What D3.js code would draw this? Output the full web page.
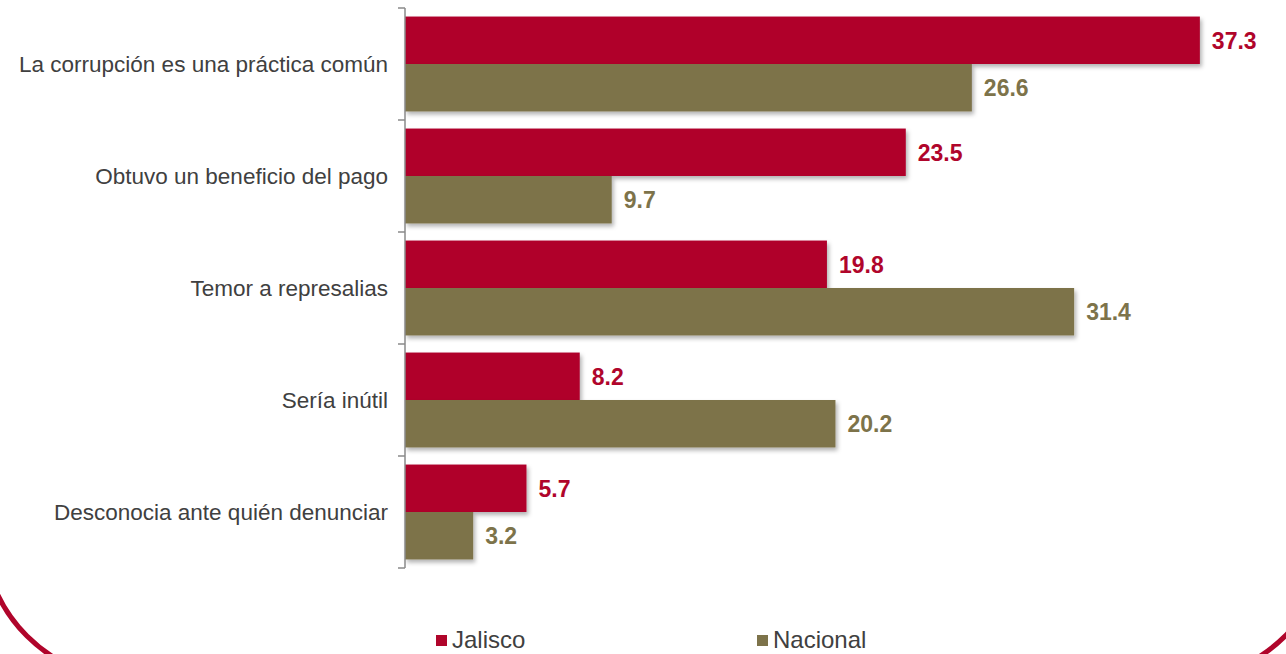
<!DOCTYPE html>
<html>
<head>
<meta charset="utf-8">
<script src="https://cdn.jsdelivr.net/npm/d3@7"></script>
<style>
  html, body { margin: 0; padding: 0; background: #fff; }
  svg { display: block; }
</style>
</head>
<body>
<svg id="chart" width="1286" height="654"></svg>
<script>
const categories = [
  "La corrupción es una práctica común",
  "Obtuvo un beneficio del pago",
  "Temor a represalias",
  "Sería inútil",
  "Desconocia ante quién denunciar"
];
const seriesNames = ["Jalisco", "Nacional"];
const jalisco = [37.3, 23.5, 19.8, 8.2, 5.7];
const nacional = [26.6, 9.7, 31.4, 20.2, 3.2];
const colors = { "Jalisco": "#B0052B", "Nacional": "#7D734A" };

const seriesValues = { "Jalisco": jalisco, "Nacional": nacional };
const data = categories.map((c, i) => ({
  cat: c,
  values: seriesNames.map(s => ({ series: s, value: seriesValues[s][i] }))
}));

const svg = d3.select("#chart");
const defs = svg.append("defs");
const f = defs.append("filter").attr("id", "shadow")
  .attr("x", "-5%").attr("y", "-20%").attr("width", "115%").attr("height", "160%");
f.append("feDropShadow").attr("dx", 2).attr("dy", 3).attr("stdDeviation", 2)
  .attr("flood-color", "#000").attr("flood-opacity", 0.3);

// decorative rounded frame
svg.append("rect")
  .attr("x", -17).attr("y", -300).attr("width", 1346).attr("height", 980)
  .attr("rx", 150).attr("ry", 150)
  .attr("fill", "none").attr("stroke", "#B0052B").attr("stroke-width", 5);

const x = d3.scaleLinear().domain([0, 40]).range([405, 405 + 40 * 21.31]);
const y = d3.scaleBand().domain(categories).range([8, 568]).padding(0);
const ys = d3.scaleBand().domain(seriesNames).range([0, y.bandwidth()])
  .paddingInner(0).paddingOuter(0.18);

const groups = svg.selectAll("g.cat").data(data).join("g")
  .attr("class", "cat")
  .attr("transform", d => `translate(0,${y(d.cat)})`);

groups.selectAll("rect.bar").data(d => d.values).join("rect")
  .attr("class", "bar")
  .attr("x", x(0))
  .attr("y", d => ys(d.series))
  .attr("width", d => x(d.value) - x(0))
  .attr("height", ys.bandwidth())
  .attr("fill", d => colors[d.series])
  .attr("filter", "url(#shadow)");

groups.selectAll("text.val").data(d => d.values).join("text")
  .attr("class", "val")
  .attr("x", d => x(d.value) + 12)
  .attr("y", d => ys(d.series) + ys.bandwidth() / 2)
  .attr("dy", "0.36em")
  .attr("fill", d => colors[d.series])
  .style("font-family", "'Liberation Sans', Arial, sans-serif")
  .style("font-weight", "bold")
  .style("font-size", "23px")
  .text(d => d3.format(".1f")(d.value));

// category labels
groups.append("text")
  .attr("x", 388)
  .attr("y", y.bandwidth() / 2)
  .attr("dy", "0.36em")
  .attr("text-anchor", "end")
  .attr("fill", "#404040")
  .style("font-family", "'Liberation Sans', Arial, sans-serif")
  .style("font-size", "22.5px")
  .text(d => d.cat);

// axis line with ticks at band boundaries
const axisG = svg.append("g").attr("stroke", "#8a8a8a").attr("stroke-width", 1.5);
const [y0, y1] = y.range();
axisG.append("line").attr("x1", x(0)).attr("x2", x(0)).attr("y1", y0).attr("y2", y1);
const boundaries = categories.map(c => y(c)).concat([y(categories[categories.length - 1]) + y.bandwidth()]);
axisG.selectAll("line.tick").data(boundaries).join("line")
  .attr("class", "tick")
  .attr("x1", x(0) - 7).attr("x2", x(0))
  .attr("y1", d => d).attr("y2", d => d);

// legend
const legendX = { "Jalisco": 436, "Nacional": 757 };
const leg = svg.selectAll("g.leg").data(seriesNames).join("g")
  .attr("class", "leg")
  .attr("transform", d => `translate(${legendX[d]},635)`);
leg.append("rect").attr("width", 11).attr("height", 11).attr("fill", d => colors[d]);
leg.append("text")
  .attr("x", 16).attr("y", 13)
  .attr("fill", "#404040")
  .style("font-family", "'Liberation Sans', Arial, sans-serif")
  .style("font-size", "24px")
  .text(d => d);
</script>
</body>
</html>
